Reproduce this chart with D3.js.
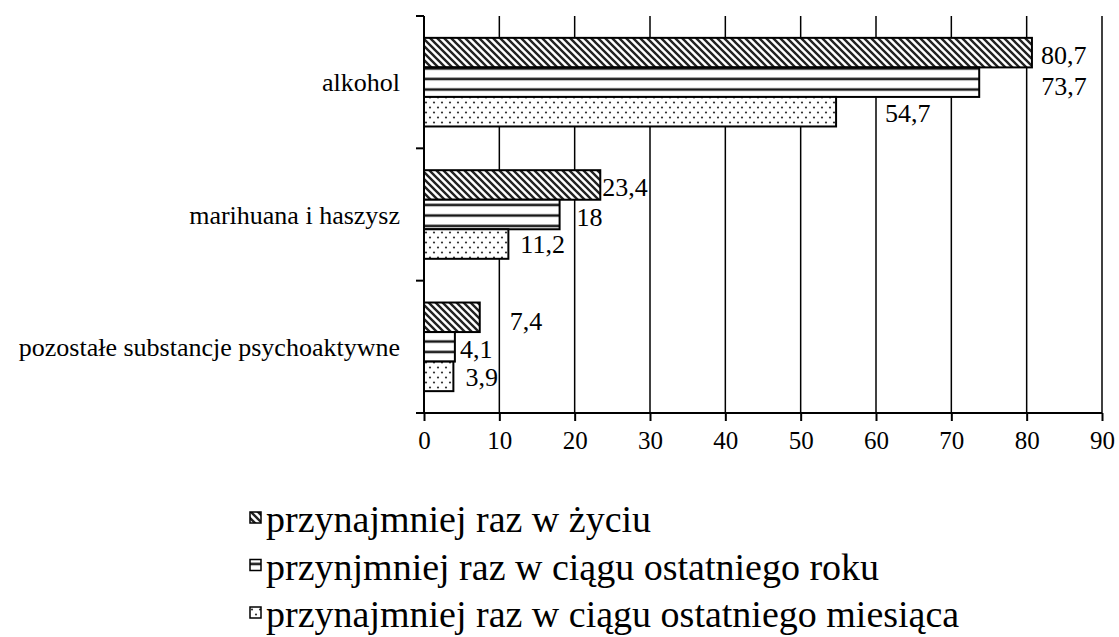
<!DOCTYPE html>
<html lang="pl">
<head>
    <meta charset="UTF-8">
    <title>Używanie substancji psychoaktywnych</title>
    <script src="https://d3js.org/d3.v7.min.js"></script>
    <style>
        body {
            margin: 0;
            background: #fff;
        }
        svg text {
            fill: #000;
            font-family: "Times New Roman", "Liberation Serif", "DejaVu Serif", serif;
        }
    </style>
</head>
<body>
    <div id="chart"></div>
    <script>
        // Data
        const categories = ["alkohol", "marihuana i haszysz", "pozostałe substancje psychoaktywne"];
        const seriesNames = [
            "przynajmniej raz w życiu",
            "przynjmniej raz w ciągu ostatniego roku",
            "przynajmniej raz w ciągu ostatniego miesiąca"
        ];
        const lifetime = [80.7, 23.4, 7.4];
        const lastYear = [73.7, 18, 4.1];
        const lastMonth = [54.7, 11.2, 3.9];
        const xTicks = [0, 10, 20, 30, 40, 50, 60, 70, 80, 90];

        // Labels were nudged by hand in the original, keep those shifts (px)
        const labelShift = [
            [[9, 2], [62, 4], [49, 1]],
            [[2, 2], [17, 2], [12, 0]],
            [[30, 4], [5, 2], [12, 1]]
        ];

        const W = 1119, H = 637;
        const plot = { left: 424, right: 1102, top: 16, bottom: 413 };
        const serif = "'Times New Roman', 'Liberation Serif', 'DejaVu Serif', serif";

        const svg = d3.select("#chart").append("svg")
            .attr("width", W)
            .attr("height", H);

        // Fill patterns
        const defs = svg.append("defs");

        const diag = defs.append("pattern")
            .attr("id", "pat0")
            .attr("patternUnits", "userSpaceOnUse")
            .attr("width", 7).attr("height", 7);
        diag.append("rect").attr("width", 7).attr("height", 7).attr("fill", "#fff");
        diag.append("path")
            .attr("d", "M-1,-1 L8,8 M-1,6 L1,8 M6,-1 L8,1")
            .attr("stroke", "#222")
            .attr("stroke-width", 2.4);

        const horiz = defs.append("pattern")
            .attr("id", "pat1")
            .attr("patternUnits", "userSpaceOnUse")
            .attr("width", 10).attr("height", 10.5);
        horiz.append("rect").attr("width", 10).attr("height", 10.5).attr("fill", "#fff");
        horiz.append("rect").attr("y", 4).attr("width", 10).attr("height", 3).attr("fill", "#999");
        horiz.append("rect").attr("y", 4.5).attr("width", 10).attr("height", 2).attr("fill", "#111");

        const dots = defs.append("pattern")
            .attr("id", "pat2")
            .attr("patternUnits", "userSpaceOnUse")
            .attr("width", 8).attr("height", 10);
        dots.append("rect").attr("width", 8).attr("height", 10).attr("fill", "#fff");
        dots.append("circle").attr("cx", 2).attr("cy", 2.5).attr("r", 1.1).attr("fill", "#333");
        dots.append("circle").attr("cx", 6).attr("cy", 7.5).attr("r", 1.1).attr("fill", "#333");

        const fills = ["url(#pat0)", "url(#pat1)", "url(#pat2)"];

        // Scales
        const x = d3.scaleLinear()
            .domain([0, 90])
            .range([plot.left, plot.right]);

        const y = d3.scaleBand()
            .domain(categories)
            .range([plot.top, plot.bottom])
            .padding(0);

        const ySub = d3.scaleBand()
            .domain(d3.range(3))
            .range([0, y.bandwidth()])
            .paddingInner(0)
            .paddingOuter(0.74);

        // Vertical gridlines
        svg.append("g")
            .selectAll("line")
            .data(xTicks.slice(1))
            .join("line")
            .attr("x1", d => x(d)).attr("x2", d => x(d))
            .attr("y1", plot.top).attr("y2", plot.bottom)
            .attr("stroke", "#000")
            .attr("stroke-width", 1.5);

        // Bars
        const series = [lifetime, lastYear, lastMonth];
        const rows = [];
        categories.forEach((c, ci) => {
            series.forEach((s, si) => rows.push({ cat: c, ci, si, value: s[ci] }));
        });

        svg.append("g")
            .selectAll("rect")
            .data(rows)
            .join("rect")
            .attr("x", x(0))
            .attr("y", d => y(d.cat) + ySub(d.si))
            .attr("width", d => x(d.value) - x(0))
            .attr("height", ySub.bandwidth())
            .attr("fill", d => fills[d.si])
            .attr("stroke", "#000")
            .attr("stroke-width", 2);

        // Value labels
        const fmt = v => String(v).replace(".", ",");
        svg.append("g")
            .selectAll("text")
            .data(rows)
            .join("text")
            .attr("x", d => x(d.value) + labelShift[d.ci][d.si][0])
            .attr("y", d => y(d.cat) + ySub(d.si) + ySub.bandwidth() / 2 + labelShift[d.ci][d.si][1])
            .attr("dy", "0.35em")
            .style("font-size", "26px")
            .text(d => fmt(d.value));

        // X axis
        const xAxis = svg.append("g")
            .attr("transform", `translate(0,${plot.bottom})`)
            .call(d3.axisBottom(x).tickValues(xTicks).tickSize(8).tickPadding(10).tickSizeOuter(0));
        xAxis.select(".domain").remove();
        xAxis.append("line")
            .attr("x1", plot.left - 8).attr("x2", plot.right)
            .attr("stroke", "#000").attr("stroke-width", 2);
        xAxis.selectAll(".tick line").attr("stroke", "#000").attr("stroke-width", 2);
        xAxis.selectAll(".tick text")
            .attr("fill", "#000")
            .style("font-family", serif)
            .style("font-size", "25px");

        // Y axis: ticks sit between categories
        const yAxis = svg.append("g");
        yAxis.append("line")
            .attr("x1", plot.left).attr("x2", plot.left)
            .attr("y1", plot.top).attr("y2", plot.bottom)
            .attr("stroke", "#000").attr("stroke-width", 2);
        yAxis.selectAll("line.tick")
            .data(categories.map(c => y(c)).concat([plot.bottom]))
            .join("line")
            .attr("class", "tick")
            .attr("x1", plot.left - 8).attr("x2", plot.left)
            .attr("y1", d => d).attr("y2", d => d)
            .attr("stroke", "#000").attr("stroke-width", 2);
        yAxis.selectAll("text")
            .data(categories)
            .join("text")
            .attr("x", 400)
            .attr("y", d => y(d) + y.bandwidth() / 2)
            .attr("dy", "0.35em")
            .attr("text-anchor", "end")
            .style("font-size", "26px")
            .text(d => d);

        // Legend (y = text baseline)
        const legend = svg.append("g")
            .attr("transform", "translate(250,532)");
        const item = legend.selectAll("g")
            .data(seriesNames)
            .join("g")
            .attr("transform", (d, i) => `translate(0,${i * 47.5})`);
        item.append("rect")
            .attr("x", 0).attr("y", -20)
            .attr("width", 11).attr("height", 11)
            .attr("fill", (d, i) => fills[i])
            .attr("stroke", "#000")
            .attr("stroke-width", 1.5);
        item.append("text")
            .attr("x", 16)
            .attr("y", 0)
            .style("font-size", "38px")
            .text(d => d);
    </script>
</body>
</html>
